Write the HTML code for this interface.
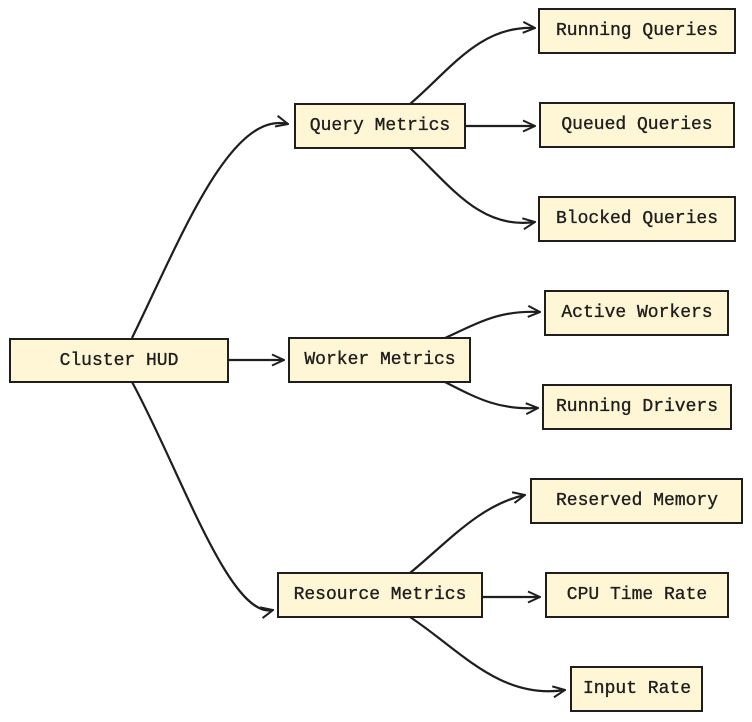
<!DOCTYPE html>
<html><head><meta charset="utf-8"><style>
html,body{margin:0;padding:0;background:#fff;}
svg{display:block}
text{font-family:"Liberation Mono",monospace;font-size:18px;fill:#1e1e1e;stroke:#1e1e1e;stroke-width:0.35;}
</style></head><body>
<svg width="752" height="722" viewBox="0 0 752 722">
<defs><marker id="a" viewBox="0 0 14 14" refX="13" refY="7" markerWidth="14" markerHeight="14" markerUnits="userSpaceOnUse" orient="auto"><path d="M1 1.5 L13 7 L1 12.5" fill="none" stroke="#1e1e1e" stroke-width="2"/></marker></defs>
<g fill="none" stroke="#1e1e1e" stroke-width="2.2" marker-end="url(#a)">
<path d="M132 338 C180 240 230 110 288 124"/>
<path d="M132 382 C180 470 230 620 273 610"/>
<path d="M228 360 L284 360"/>
<path d="M410 104 C450 70 480 25 535 28"/>
<path d="M465 126 L535 126"/>
<path d="M410 148 C450 185 480 230 535 222"/>
<path d="M445 338 C480 322 500 310 540 312"/>
<path d="M445 382 C480 400 500 410 538 408"/>
<path d="M410 573 C450 540 480 505 525 495"/>
<path d="M482 597 L540 597"/>
<path d="M410 617 C460 650 500 700 565 690"/>
</g>
<g fill="#fff6d5" stroke="#1e1e1e" stroke-width="2">
<rect x="10" y="339" width="218" height="43"/>
<rect x="295" y="104" width="170" height="44"/>
<rect x="289" y="338" width="181" height="44"/>
<rect x="278" y="573" width="204" height="44"/>
<rect x="539" y="9" width="196" height="44"/>
<rect x="540" y="103" width="194" height="44"/>
<rect x="539" y="197" width="196" height="44"/>
<rect x="545" y="291" width="183" height="44"/>
<rect x="543" y="385" width="188" height="44"/>
<rect x="531" y="479" width="211" height="44"/>
<rect x="546" y="573" width="182" height="44"/>
<rect x="571" y="667" width="131" height="44"/>
</g>
<g text-anchor="middle" dominant-baseline="central">
<text x="119" y="361">Cluster HUD</text>
<text x="380" y="126">Query Metrics</text>
<text x="380" y="360">Worker Metrics</text>
<text x="380" y="595">Resource Metrics</text>
<text x="637" y="31">Running Queries</text>
<text x="637" y="125">Queued Queries</text>
<text x="637" y="219">Blocked Queries</text>
<text x="637" y="313">Active Workers</text>
<text x="637" y="407">Running Drivers</text>
<text x="637" y="501">Reserved Memory</text>
<text x="637" y="595">CPU Time Rate</text>
<text x="637" y="689">Input Rate</text>
</g>
</svg>
</body></html>
